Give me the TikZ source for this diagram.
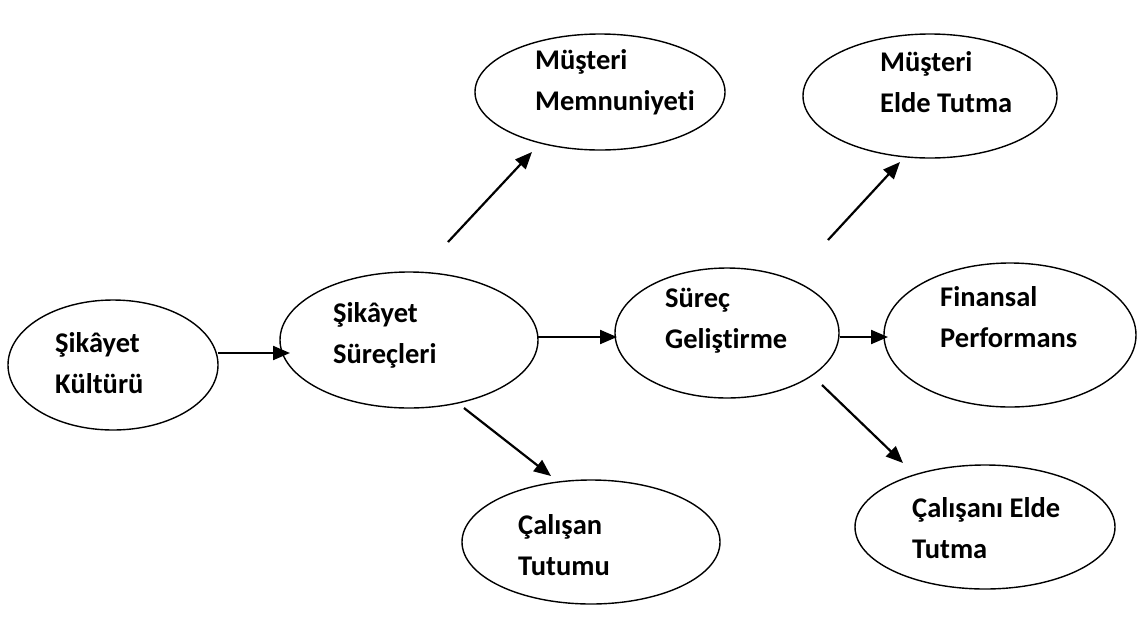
\documentclass[tikz,border=0pt]{standalone}
\usepackage{fontspec}
\setmainfont[Ligatures=NoCommon]{Carlito}
\usetikzlibrary{shapes.geometric,arrows.meta}
\begin{document}
\begin{tikzpicture}[x=1pt,y=-1pt,
  oval/.style={draw,ellipse,line width=1.4pt,inner sep=0pt},
  txt/.style={anchor=west,align=left,font=\fontsize{28.5}{41}\selectfont\bfseries,inner sep=0pt},
  link/.style={line width=2.2pt,-{Triangle[length=17pt,width=14pt]}}]
\useasboundingbox (0,0) rectangle (1146,622);
\fill[white] (0,0) rectangle (1146,622);

% ellipses
\node[oval,minimum width=210pt,minimum height=130pt] (A) at (113,365) {};
\node[oval,minimum width=258pt,minimum height=136pt] (B) at (409,340) {};
\node[oval,minimum width=250pt,minimum height=116pt] (C) at (600,92) {};
\node[oval,minimum width=224pt,minimum height=130pt] (D) at (727,333) {};
\node[oval,minimum width=254pt,minimum height=124pt] (E) at (930,96) {};
\node[oval,minimum width=252pt,minimum height=144pt] (F) at (1010,335) {};
\node[oval,minimum width=258pt,minimum height=124pt] (G) at (591,542) {};
\node[oval,minimum width=260pt,minimum height=124pt] (H) at (985,527) {};

% labels
\node[txt] (A-t) at (55,363) {Şikâyet\\Kültürü};
\node[txt] (B-t) at (333,335) {Şikâyet\\Süreçleri};
\node[txt] (C-t) at (535,82) {Müşteri\\Memnuniyeti};
\node[txt] (D-t) at (665,321) {Süreç\\Geliştirme};
\node[txt] (E-t) at (880,82) {Müşteri\\Elde Tutma};
\node[txt] (F-t) at (940,317) {Finansal\\Performans};
\node[txt] (G-t) at (518,545) {Çalışan\\Tutumu};
\node[txt] (H-t) at (912,528) {Çalışanı Elde\\Tutma};

% connector ends
\coordinate (ab1) at (218,353); \coordinate (ab2) at (290,353);
\coordinate (bc1) at (448,242); \coordinate (bc2) at (532,152);
\coordinate (bd1) at (538,337); \coordinate (bd2) at (617,337);
\coordinate (bg1) at (464,408); \coordinate (bg2) at (551,476);
\coordinate (de1) at (828,240); \coordinate (de2) at (900,162);
\coordinate (df1) at (840,337); \coordinate (df2) at (888,337);
\coordinate (dh1) at (822,385); \coordinate (dh2) at (903,463);

% arrows
\draw[link] (ab1) -- (ab2);
\draw[link] (bc1) -- (bc2);
\draw[link] (bd1) -- (bd2);
\draw[link] (bg1) -- (bg2);
\draw[link] (de1) -- (de2);
\draw[link] (df1) -- (df2);
\draw[link] (dh1) -- (dh2);
\end{tikzpicture}
\end{document}
